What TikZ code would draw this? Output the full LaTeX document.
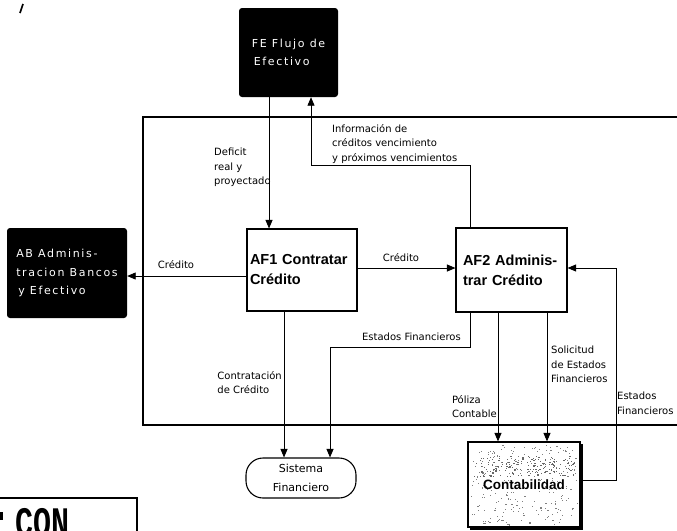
\documentclass[tikz,border=0pt]{standalone}
\usepackage{fontspec}
\setmainfont{DejaVu Sans}
\newfontfamily\boxfont{Liberation Sans}
\newfontfamily\widefont{DejaVu Sans}[LetterSpace=15]
\newfontfamily\stampfont{Liberation Mono}
\usetikzlibrary{arrows.meta,calc,backgrounds}

\begin{document}
\begin{tikzpicture}[x=1pt,y=-1pt,
  flow/.style={draw=black, line width=0.9pt, -{Triangle[length=8.5pt,width=7pt]}},
  lbl/.style={font=\fontsize{10}{14.5}\selectfont, inner sep=0pt, align=left},
  proc/.style={draw=black, line width=1.1pt, inner sep=0pt,
    font=\boxfont\bfseries\fontsize{14.5}{20}\selectfont, align=left},
  ext/.style={fill=black, rounded corners=3pt, inner sep=0pt, text=white,
    font=\widefont\fontsize{11}{18.5}\selectfont, align=left},
  store/.style={draw=black, line width=1.1pt, rounded corners=17pt,
    minimum width=110pt, minimum height=40pt, align=center,
    font=\fontsize{11}{18.5}\selectfont},
  frame/.style={draw=black, line width=2.2pt},
]
\clip (0,0) rectangle (677,530);

% external entities
\node[ext, minimum width=99pt, minimum height=89pt] (fe) at (288.5,52.5)
  {FE Flujo de\\\hspace*{2pt}Efectivo};
\node[ext, minimum width=120pt, minimum height=90pt] (ab) at (67,273)
  {AB Adminis-\\tracion Bancos\\\hspace*{2pt}y Efectivo};

% system boundary
\draw[frame] (677,117) -- (143,117) -- (143,425) -- (677,425);

% processes
\node[proc, minimum width=110pt, minimum height=82pt, text width=104pt] (af1) at (302,270)
  {AF1 Contratar\\Crédito};
\node[proc, minimum width=111pt, minimum height=84pt, text width=97pt] (af2) at (511.5,270)
  {AF2 Adminis-\\trar Crédito};

% stores
\node[store] (sis) at (301,478) {Sistema\\Financiero};
\node[draw=black, line width=1.2pt, minimum width=112pt, minimum height=85pt,
  font=\boxfont\bfseries\fontsize{13.5}{15}\selectfont] (cont) at (524,484.5) {Contabilidad};
\draw[line width=2.4pt] ([xshift=1.2pt,yshift=-3pt]cont.north east)
  -- ([xshift=1.2pt,yshift=-1.2pt]cont.south east)
  -- ([xshift=3pt,yshift=-1.2pt]cont.south west);
\begin{scope}[on background layer]
  \pgfmathsetseed{4217}
  \foreach \i in {1,...,230}{
    \pgfmathsetmacro\px{524+53*rand}
    \pgfmathsetmacro\py{484.5+40*rand}
    \pgfmathsetmacro\ps{0.6+0.9*rnd}
    \fill[black!50] (\px,\py) rectangle ++(\ps,0.8*\ps);
  }
  \foreach \i in {1,...,170}{
    \pgfmathsetmacro\px{524+50*rand}
    \pgfmathsetmacro\py{466+10*rand}
    \pgfmathsetmacro\ps{0.6+1.2*rnd}
    \fill[black!60] (\px,\py) rectangle ++(\ps,0.7*\ps);
  }
\end{scope}

% data flows
\draw[flow] ([xshift=-19.5pt]fe.south) -- ([xshift=-33pt]af1.north);
\draw[flow] ([xshift=-41.5pt]af2.north) -- ++(0,-62) -| ([xshift=22.5pt]fe.south);
\draw[flow] ([yshift=-6pt]af1.west) -- ([yshift=-6pt]af1.west -| ab.east);
\draw[flow] ([yshift=2pt]af1.east) -- ([yshift=2pt]af2.west);
\draw[flow] ([yshift=4pt]cont.east) -- ++(36,0) |- ([yshift=2pt]af2.east);
\draw[flow] ([xshift=-41.5pt]af2.south) -- ++(0,35) -| ([xshift=29pt]sis.north);
\draw[flow] ([xshift=-18pt]af1.south) -- ([xshift=-18pt]af1.south |- sis.north);
\draw[flow] ([xshift=-13.5pt]af2.south) -- ([xshift=-13.5pt]af2.south |- cont.north);
\draw[flow] ([xshift=35.5pt]af2.south) -- ([xshift=35.5pt]af2.south |- cont.north);

% flow labels
\node[lbl, anchor=north west] (ldef) at (214,148) {Deficit\\real y\\proyectado};
\node[lbl, anchor=north west] (linfo) at (332,124)
  {Información de\\créditos vencimiento\\y próximos vencimientos};
\node[lbl] (lcred1) at (176,265) {Crédito};
\node[lbl] (lcred2) at (401,258) {Crédito};
\node[lbl, anchor=east] (lef1) at (461,337) {Estados Financieros};
\node[lbl, anchor=north east] (lcontr) at (282,371) {Contratación\\de Crédito};
\node[lbl, anchor=north east] (lpol) at (497,395) {Póliza\\Contable};
\node[lbl, anchor=north west] (lsol) at (551,346) {Solicitud\\de Estados\\Financieros};
\node[lbl, anchor=north west] (lef2) at (617,392) {Estados\\Financieros};

% stamp in the lower left corner
\draw[line width=2pt] (-5,498) -- (137,498) -- (137,535);
\node[font=\stampfont\bfseries\fontsize{30}{30}\selectfont, anchor=north west, inner sep=0pt]
  (stamp) at (15,508) {\scalebox{1}[1.4]{CON}};
\fill (0,512) rectangle (3,520);
\draw[line width=1.6pt] (23,4) -- (20,13);
\end{tikzpicture}
\end{document}
